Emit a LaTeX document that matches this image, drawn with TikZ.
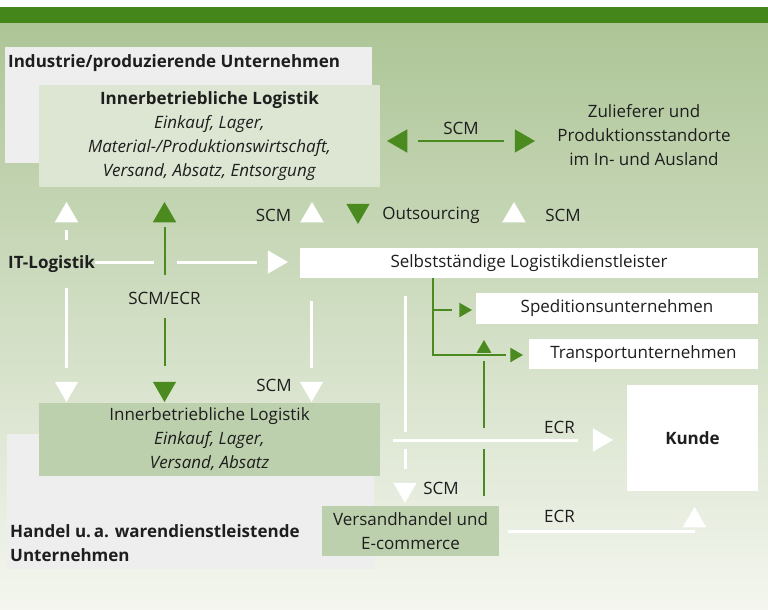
\documentclass[tikz,border=0pt]{standalone}
\usepackage{fontspec}
\setmainfont{Open Sans}
\usepackage{tikz}
\usetikzlibrary{shapes.geometric,positioning,calc}
\definecolor{barg}{HTML}{45861A}
\definecolor{bgtop}{HTML}{ADC597}
\definecolor{bgbot}{HTML}{F4F6EF}
\definecolor{greybox}{HTML}{EEEEEE}
\definecolor{paleg}{HTML}{DCE6D2}
\definecolor{midg}{HTML}{BDD0AD}
\definecolor{arrg}{HTML}{4A8A1E}
\definecolor{ink}{HTML}{1E1E1E}

\begin{document}
\begin{tikzpicture}[x=1pt,y=-1pt,
  font=\fontsize{17}{24}\selectfont, text=ink,
  plate/.style={rectangle,inner sep=0pt,outer sep=0pt},
  wbox/.style={plate,fill=white},
  tri/.style={regular polygon,regular polygon sides=3,inner sep=0pt,
              outer sep=0pt,minimum size=27pt},
  small/.style={minimum size=17pt},
  wtri/.style={tri,fill=white},
  gtri/.style={tri,fill=arrg},
  tup/.style={shape border rotate=0},
  tdown/.style={shape border rotate=180},
  tright/.style={shape border rotate=270},
  tleft/.style={shape border rotate=90},
  wline/.style={white,line width=3pt},
  gline/.style={arrg,line width=2pt}
]
% background
\useasboundingbox (0,0) rectangle (768,610);
\fill[white] (0,0) rectangle (768,610);
\fill[barg] (0,7) rectangle (768,24);
\shade[top color=bgtop,bottom color=bgbot] (0,24) rectangle (768,610);

% Industrie
\node[plate,fill=greybox,minimum width=367pt,minimum height=116pt] (indu) at (188.5,105) {};
\node[anchor=west,inner sep=0pt] (indut) at (8,63) {\textbf{Industrie/produzierende Unternehmen}};
\node[plate,fill=paleg,minimum width=341pt,minimum height=102pt,align=center] (inb1) at (209.5,136)
  {\textbf{Innerbetriebliche Logistik}\\\textit{Einkauf, Lager,}\\
   \textit{Material-/Produktionswirtschaft,}\\\textit{Versand, Absatz, Entsorgung}};

% Zulieferer
\node[gtri,tleft] (tL) at (400.5,141) {};
\node[gtri,tright] (tR) at (521.5,141) {};
\draw[gline,shorten <=11pt,shorten >=11pt] (tL) -- (tR)
  node[midway,above=2pt,text=ink] (lscm1) {SCM};
\node[align=center] (zul) at (644,135) {Zulieferer und\\Produktionsstandorte\\im In- und Ausland};

% Reihe SCM / Outsourcing
\node[wtri,tup] (tSCMu) at (312,215.5) {};
\node (lscm2) at (273.5,215) {SCM};
\node[gtri,tdown] (tOut) at (358,210.5) {};
\node (lout) at (431,215) {Outsourcing};
\node[wtri,tup] (tSCMr) at (514,215.5) {};
\node (lscm3) at (563,215) {SCM};

% IT-Logistik
\node[anchor=west,inner xsep=0pt,inner ysep=15pt] (itl) at (8,264) {\textbf{IT-Logistik}};
\node[wtri,tup] (tIT1) at (66.5,215.5) {};
\node[wtri,tdown] (tIT2) at (66.5,388.5) {};
\draw[wline,shorten <=8pt] (tIT1) -- (tIT1 |- itl.north);
\draw[wline,shorten >=14pt] (itl.south -| tIT2) -- (tIT2);

\node[wtri,tright] (tSelb) at (274.5,262) {};
\node[wbox,minimum width=458pt,minimum height=30pt] (selb) at (529,263) {Selbstständige Logistikdienstleister};

% SCM/ECR
\node[gtri,tup] (tG1) at (164.5,215.5) {};
\node (lscmecr) at (164.5,298) {SCM/ECR};
\node[gtri,tdown] (tG2) at (164.5,388.5) {};
\draw[gline,shorten <=5pt,shorten >=13pt] (tG1) -- (lscmecr);
\draw[gline,shorten <=10pt,shorten >=16pt] (lscmecr) -- (tG2);
\draw[wline] (itl.east |- tSelb) -- ($(tG1 |- tSelb)+(-11,0)$);
\draw[wline,shorten >=11pt] ($(tG1 |- tSelb)+(12,0)$) -- (tSelb);

% Dienstleister
\node[wbox,minimum width=282pt,minimum height=31pt] (sped) at (617,308.5) {Speditionsunternehmen};
\node[wbox,minimum width=229pt,minimum height=30pt] (trans) at (643.5,354) {Transportunternehmen};
\node[gtri,small,tright] (tSp) at (463.5,310) {};
\node[gtri,small,tright] (tTr) at (514.5,355) {};
\coordinate (br) at (432.5,263);
\draw[gline,shorten >=4pt] (br |- selb.south) |- (tTr);
\draw[gline,shorten >=7pt] (br |- tSp) -- (tSp);

% Handel
\node[plate,fill=greybox,minimum width=367pt,minimum height=135pt] (hand) at (190.5,501.5) {};
\node[plate,fill=midg,minimum width=341pt,minimum height=73pt,align=center] (inb2) at (209.5,439.5)
  {Innerbetriebliche Logistik\\\textit{Einkauf, Lager,}\\\textit{Versand, Absatz}};
\node[anchor=west,align=left,inner sep=0pt] (handt) at (10,543)
  {\textbf{Handel u.\,a. warendienstleistende}\\\textbf{Unternehmen}};
\node[plate,fill=midg,minimum width=177pt,minimum height=50pt,align=center] (vers) at (410.5,531)
  {Versandhandel und\\E-commerce};

% Kunde
\node[wbox,minimum width=131pt,minimum height=106pt] (kunde) at (692.5,438) {\textbf{Kunde}};
\node[wtri,tright] (tKun) at (599.5,440) {};
\node[wtri,tup] (tKun2) at (694.5,520.5) {};
\draw[wline,shorten <=13pt,shorten >=15pt] (inb2.east |- tKun) -- (tKun);
\node (lecr1) at (559.5,427) {ECR};
\draw[wline,shorten <=9pt] (vers.east) -- (vers.east -| tKun2);
\node (lecr2) at (559.5,516) {ECR};

% SCM nach unten
\node[wtri,tdown] (tSCMd) at (311.5,388.5) {};
\node (lscm4) at (274,385) {SCM};
\draw[wline,shorten <=23pt,shorten >=14pt] (selb.south -| tSCMd) -- (tSCMd);
\node[wtri,tdown] (tVers) at (405,489.5) {};
\node (lscm5) at (441,488) {SCM};
\draw[wline,shorten <=18pt] (selb.south -| tVers) -- ($(tVers |- tKun)+(0,-8)$);
\draw[wline,shorten >=14pt] ($(tVers |- tKun)+(0,9)$) -- (tVers);

% Versandhandel nach oben
\node[gtri,small,tup] (tUp) at (484,348.5) {};
\draw[gline,shorten <=10pt] (vers.north -| tUp) -- ($(tUp |- tKun)+(0,9)$);
\draw[gline,shorten >=8pt] ($(tUp |- tKun)+(0,-12)$) -- (tUp);
\end{tikzpicture}
\end{document}
